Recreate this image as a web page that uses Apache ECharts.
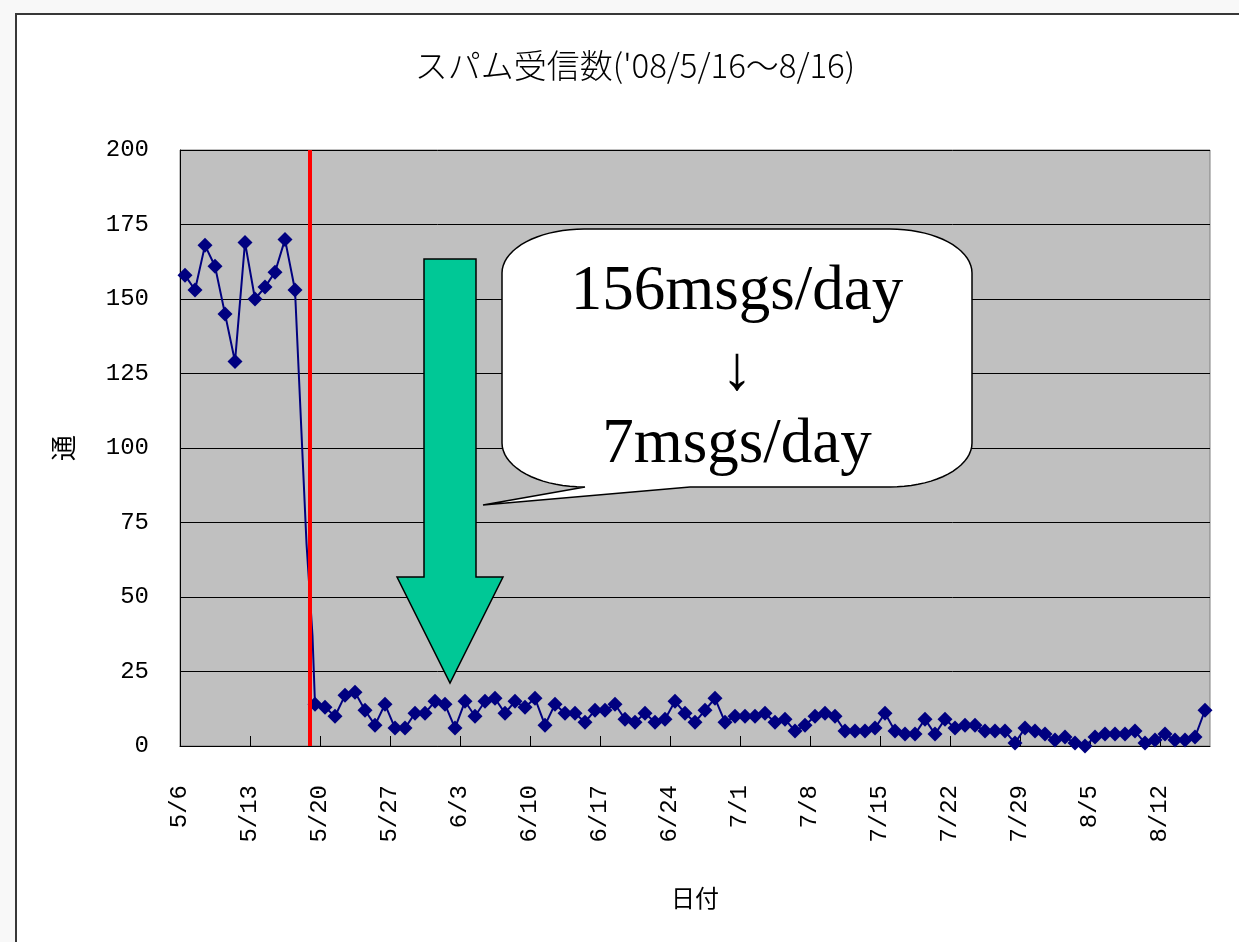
<!DOCTYPE html>
<html>
<head>
<meta charset="utf-8">
<script src="https://cdn.jsdelivr.net/npm/echarts@6/dist/echarts.min.js"></script>
<style>
  html, body { margin: 0; padding: 0; width: 1239px; height: 942px; overflow: hidden; background: #f8f8f8; }
  #frame { position: absolute; left: 15px; top: 13px; width: 1300px; height: 1000px;
           border: 2px solid #383838; background: #ffffff; }
  #chart { position: absolute; left: 0; top: 0; width: 1239px; height: 942px; }
</style>
</head>
<body>
<div id="frame"></div>
<div id="chart"></div>
<script>
// First day shown on the date axis (x = 0 is 2008-05-06 00:00, one unit = one day)
const axisStart = { year: 2008, month: 5, day: 6 };
const axisDays = 103;          // 5/6 .. 8/16 inclusive
const weekStep = 7;

// Daily spam counts before the filter (5/6 .. 5/17)
const countsBefore = [158, 153, 168, 161, 145, 129, 169, 150, 154, 159, 170, 153];

// 5/18: the day the filter went in, split around the switch-over
const switchDays = [12.65, 13.25];
const switchCounts = [68, 37];
const filterStartDay = 13;

// Daily spam counts after the filter (5/19 .. 8/16)
const countsAfter = [
  14, 13, 10, 17, 18, 12, 7, 14, 6, 6, 11, 11, 15,                 // 5/19 - 5/31
  14, 6, 15, 10, 15, 16, 11, 15, 13, 16,                            // 6/1 - 6/10
  7, 14, 11, 11, 8, 12, 12, 14, 9, 8,                               // 6/11 - 6/20
  11, 8, 9, 15, 11, 8, 12, 16, 8, 10,                               // 6/21 - 6/30
  10, 10, 11, 8, 9, 5, 7, 10, 11, 10,                               // 7/1 - 7/10
  5, 5, 5, 6, 11, 5, 4, 4, 9, 4,                                    // 7/11 - 7/20
  9, 6, 7, 7, 5, 5, 5, 1, 6, 5, 4,                                  // 7/21 - 7/31
  2, 3, 1, 0, 3, 4, 4, 4, 5, 1, 2, 4, 2, 2, 3, 12                   // 8/1 - 8/16
];

const yMin = 0, yMax = 200, yStep = 25;

const titleText = 'スパム受信数(\'08/5/16～8/16)';
const xName = '日付';
const yName = '通';
const calloutLines = ['156msgs/day', '↓', '7msgs/day'];

// Each day's count sits in the middle of its day slot
const seriesData = [];
countsBefore.forEach((v, i) => seriesData.push([i + 0.5, v]));
switchDays.forEach((d, i) => seriesData.push({ value: [d, switchCounts[i]], symbol: 'none' }));
countsAfter.forEach((v, i) => seriesData.push([filterStartDay + i + 0.5, v]));

function dayLabel(v) {
  const d = new Date(axisStart.year, axisStart.month - 1, axisStart.day + Math.round(v));
  return (d.getMonth() + 1) + '/' + d.getDate();
}

// Rounded callout outline (elliptical corners) with a tail pointing at the arrow
function calloutPoints(L, T, R, B, rx, ry, tail) {
  const pts = [];
  const n = 18;
  const corner = (cx, cy, a0, a1) => {
    for (let k = 0; k <= n; k++) {
      const a = a0 + (a1 - a0) * k / n;
      pts.push([cx + rx * Math.cos(a), cy + ry * Math.sin(a)]);
    }
  };
  corner(R - rx, T + ry, -Math.PI / 2, 0);
  corner(R - rx, B - ry, 0, Math.PI / 2);
  tail.forEach(p => pts.push(p));
  corner(L + rx, B - ry, Math.PI / 2, Math.PI);
  corner(L + rx, T + ry, Math.PI, Math.PI * 1.5);
  return pts;
}

const chart = echarts.init(document.getElementById('chart'), null, { renderer: 'canvas' });

const labelFont = 'Liberation Mono';
const cjkFont = '"Noto Sans CJK JP"';

chart.setOption({
  animation: false,
  backgroundColor: 'transparent',
  title: {
    text: titleText,
    left: 630,
    top: 44,
    textAlign: 'center',
    textStyle: { fontFamily: cjkFont, fontSize: 33, fontWeight: 300, color: '#000' }
  },
  grid: {
    left: 180, top: 150, width: 1030, height: 596,
    show: true, backgroundColor: '#c0c0c0', borderColor: '#808080', borderWidth: 1
  },
  xAxis: {
    type: 'value',
    min: 0, max: axisDays, interval: weekStep,
    axisLine: { show: true, onZero: false, lineStyle: { color: '#000', width: 1 } },
    axisTick: { show: true, inside: true, length: 10, lineStyle: { color: '#000', width: 1 } },
    axisLabel: {
      rotate: 90, margin: 39, showMaxLabel: false,
      fontFamily: labelFont, fontSize: 24, color: '#000',
      formatter: dayLabel
    },
    splitLine: { show: false },
    name: xName, nameLocation: 'middle', nameGap: 140,
    nameTextStyle: { fontFamily: cjkFont, fontSize: 24, color: '#000' }
  },
  yAxis: {
    type: 'value',
    min: yMin, max: yMax, interval: yStep,
    axisLine: { show: true, lineStyle: { color: '#000', width: 1 } },
    axisTick: { show: false },
    axisLabel: { margin: 31, fontFamily: labelFont, fontSize: 24, color: '#000' },
    splitLine: { show: true, lineStyle: { color: '#000', width: 1 } },
    name: yName, nameLocation: 'middle', nameGap: 104,
    nameTextStyle: { fontFamily: cjkFont, fontSize: 26, color: '#000' }
  },
  series: [
    {
      name: 'spam',
      type: 'line',
      data: seriesData,
      symbol: 'diamond',
      symbolSize: 15,
      lineStyle: { color: '#000080', width: 2 },
      itemStyle: { color: '#000080' },
      z: 3
    },
    {
      name: 'filter start',
      type: 'line',
      data: [[filterStartDay, yMin], [filterStartDay, yMax]],
      symbol: 'none',
      lineStyle: { color: '#ff0000', width: 4 },
      z: 4
    }
  ],
  graphic: [
    {
      type: 'polygon', z: 10,
      shape: { points: [[424, 259], [476, 259], [476, 577], [503, 577], [450, 683], [397, 577], [424, 577]] },
      style: { fill: '#00c896', stroke: '#000', lineWidth: 1.5 }
    },
    {
      type: 'polygon', z: 10,
      shape: { points: calloutPoints(502, 229, 972, 487, 82, 44, [[690, 487], [483, 505], [585, 487]]) },
      style: { fill: '#ffffff', stroke: '#000', lineWidth: 1.5 }
    },
    {
      type: 'text', z: 11, x: 737, y: 292,
      style: { text: calloutLines[0], font: '63px "Liberation Serif"', fill: '#000', align: 'center', verticalAlign: 'middle' }
    },
    {
      type: 'text', z: 11, x: 737, y: 372,
      style: { text: calloutLines[1], font: '63px "Liberation Serif"', fill: '#000', align: 'center', verticalAlign: 'middle' }
    },
    {
      type: 'text', z: 11, x: 737, y: 445,
      style: { text: calloutLines[2], font: '63px "Liberation Serif"', fill: '#000', align: 'center', verticalAlign: 'middle' }
    }
  ]
});
</script>
</body>
</html>
